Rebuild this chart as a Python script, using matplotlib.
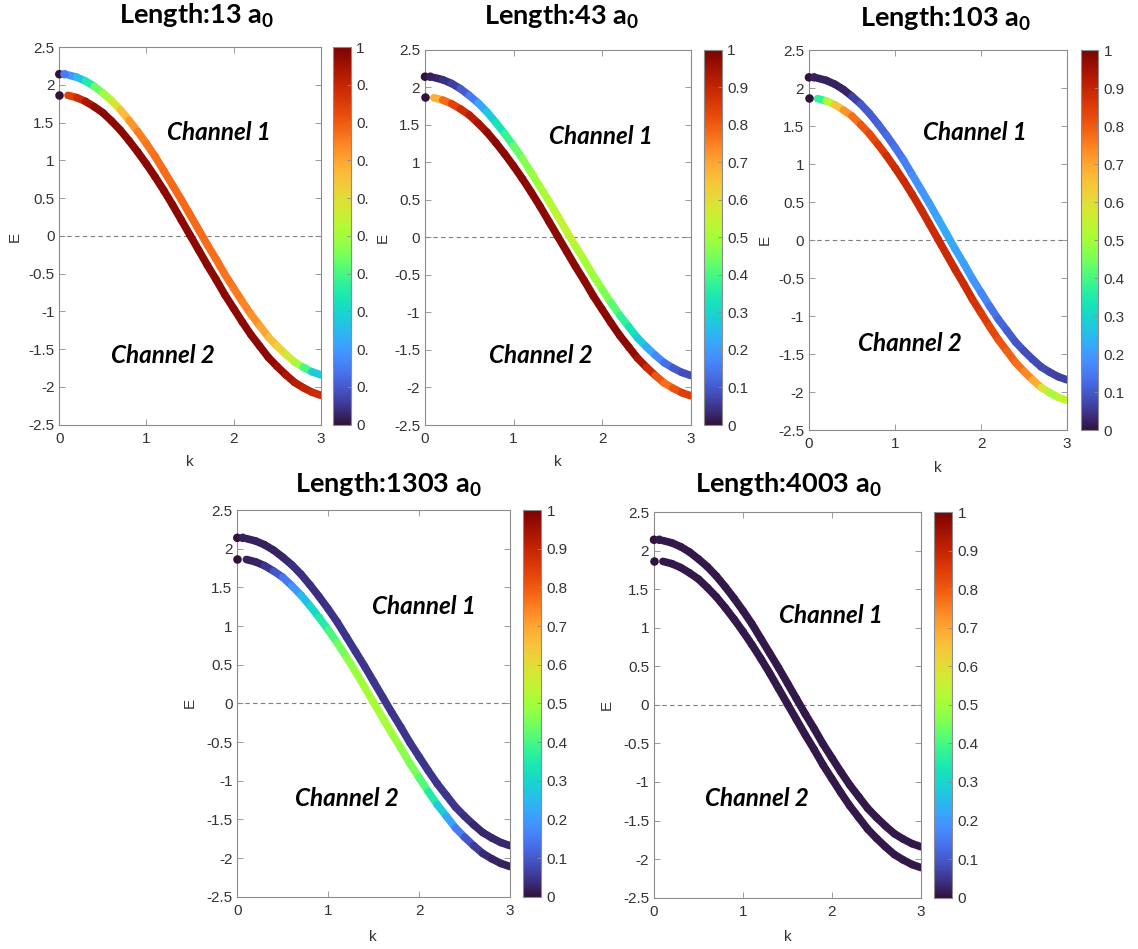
import numpy as np
import matplotlib
matplotlib.use("Agg")
import matplotlib.pyplot as plt
from matplotlib.collections import LineCollection
from matplotlib.patches import Rectangle
from matplotlib.cm import ScalarMappable

plt.rcParams['axes.unicode_minus'] = False
plt.rcParams['mathtext.default'] = 'regular'

# k-grid for the bands (start points are drawn as separate dots)
k = [0.1, 0.2, 0.3, 0.4, 0.5, 0.6, 0.7, 0.8, 0.9, 1.0,
     1.1, 1.2, 1.3, 1.4, 1.5, 1.6, 1.7, 1.8, 1.9, 2.0,
     2.1, 2.2, 2.3, 2.4, 2.5, 2.6, 2.7, 2.8, 2.9, 3.0]
E1 = [2.13, 2.10, 2.05, 1.98, 1.89, 1.79, 1.67, 1.53, 1.38, 1.22,
      1.05, 0.86, 0.67, 0.48, 0.28, 0.08, -0.12, -0.31, -0.51, -0.69,
      -0.87, -1.04, -1.19, -1.34, -1.46, -1.57, -1.67, -1.74, -1.80, -1.84]  # channel 1
E2 = [1.86, 1.83, 1.78, 1.71, 1.63, 1.52, 1.40, 1.26, 1.11, 0.95,
      0.78, 0.60, 0.41, 0.21, 0.01, -0.19, -0.39, -0.58, -0.78, -0.96,
      -1.14, -1.31, -1.46, -1.61, -1.73, -1.84, -1.94, -2.01, -2.07, -2.11]  # channel 2
k1_dots = [0.0, 0.06]
E1_dots = [2.14, 2.14]
k2_dots = [0.0]
E2_dots = [1.87]

lengths = [13, 43, 103, 1303, 4003]

# colour value along each band
c13_1 = [0.17, 0.22, 0.30, 0.40, 0.47, 0.53, 0.62, 0.70, 0.74, 0.76,
         0.77, 0.77, 0.78, 0.78, 0.78, 0.78, 0.77, 0.77, 0.77, 0.76,
         0.75, 0.74, 0.72, 0.68, 0.64, 0.60, 0.54, 0.46, 0.34, 0.22]
c13_2 = [0.82, 0.86, 0.92, 0.96, 0.98, 0.98, 0.98, 0.98, 0.98, 0.98,
         0.98, 0.98, 0.98, 0.98, 0.98, 0.98, 0.98, 0.98, 0.98, 0.98,
         0.98, 0.98, 0.98, 0.98, 0.97, 0.95, 0.93, 0.91, 0.90, 0.88]
c43_1 = [0.03, 0.03, 0.05, 0.08, 0.13, 0.18, 0.25, 0.31, 0.36, 0.41,
         0.45, 0.48, 0.50, 0.52, 0.54, 0.56, 0.53, 0.51, 0.50, 0.48,
         0.44, 0.40, 0.35, 0.30, 0.25, 0.20, 0.15, 0.11, 0.09, 0.08]
c43_2 = [0.62, 0.74, 0.82, 0.86, 0.90, 0.93, 0.96, 0.98, 0.98, 0.98,
         0.98, 0.98, 0.98, 0.98, 0.98, 0.98, 0.98, 0.98, 0.98, 0.98,
         0.98, 0.98, 0.98, 0.96, 0.92, 0.85, 0.76, 0.78, 0.84, 0.86]
c103_1 = [0.02, 0.02, 0.02, 0.02, 0.03, 0.10, 0.10, 0.11, 0.12, 0.13,
          0.15, 0.17, 0.19, 0.20, 0.21, 0.23, 0.22, 0.21, 0.20, 0.18,
          0.15, 0.13, 0.11, 0.10, 0.09, 0.08, 0.08, 0.07, 0.07, 0.06]
c103_2 = [0.30, 0.45, 0.60, 0.70, 0.75, 0.79, 0.82, 0.84, 0.87, 0.88,
          0.89, 0.89, 0.89, 0.89, 0.89, 0.89, 0.89, 0.89, 0.88, 0.86,
          0.84, 0.82, 0.80, 0.78, 0.76, 0.72, 0.66, 0.50, 0.52, 0.56]
c1303_1 = [0.02, 0.02, 0.02, 0.02, 0.02, 0.04, 0.04, 0.04, 0.04, 0.04,
           0.05, 0.05, 0.05, 0.05, 0.05, 0.05, 0.05, 0.05, 0.05, 0.05,
           0.05, 0.05, 0.05, 0.05, 0.05, 0.03, 0.03, 0.03, 0.03, 0.03]
c1303_2 = [0.02, 0.02, 0.03, 0.07, 0.12, 0.17, 0.22, 0.28, 0.33, 0.38,
           0.43, 0.46, 0.49, 0.50, 0.51, 0.51, 0.50, 0.48, 0.46, 0.44,
           0.39, 0.32, 0.25, 0.18, 0.12, 0.07, 0.04, 0.03, 0.02, 0.02]
c4003_1 = [0.01, 0.01, 0.01, 0.01, 0.01, 0.01, 0.01, 0.01, 0.01, 0.01,
           0.01, 0.01, 0.01, 0.01, 0.01, 0.01, 0.01, 0.01, 0.01, 0.01,
           0.01, 0.01, 0.01, 0.01, 0.01, 0.01, 0.01, 0.01, 0.01, 0.01]
c4003_2 = [0.01, 0.01, 0.01, 0.01, 0.01, 0.01, 0.01, 0.01, 0.01, 0.01,
           0.01, 0.01, 0.01, 0.01, 0.01, 0.01, 0.01, 0.01, 0.01, 0.01,
           0.01, 0.01, 0.01, 0.01, 0.01, 0.01, 0.01, 0.01, 0.01, 0.01]
dot1_vals = [[0.0, 0.15], [0.0, 0.02], [0.0, 0.02], [0.0, 0.02], [0.0, 0.01]]
dot2_vals = [[0.0], [0.0], [0.0], [0.0], [0.0]]

ch1_cols = [c13_1, c43_1, c103_1, c1303_1, c4003_1]
ch2_cols = [c13_2, c43_2, c103_2, c1303_2, c4003_2]

cb_ticks = [0, 0.1, 0.2, 0.3, 0.4, 0.5, 0.6, 0.7, 0.8, 0.9, 1]
cb_labels = ['0', '0.1', '0.2', '0.3', '0.4', '0.5', '0.6', '0.7', '0.8', '0.9', '1']
y_ticks = [-2.5, -2, -1.5, -1, -0.5, 0, 0.5, 1, 1.5, 2, 2.5]
y_labels = ['-2.5', '-2', '-1.5', '-1', '-0.5', '0', '0.5', '1', '1.5', '2', '2.5']
x_ticks = [0, 1, 2, 3]

W, H = 1138, 949
def box(x0, y0, x1, y1):  # pixel box -> figure fraction
    return [x0 / W, 1 - y1 / H, (x1 - x0) / W, (y1 - y0) / H]

# layout in pixels: axes, colorbar, title (cx, baseline), ylabel x,y, xlabel x,y, channel text pos (data)
layout = [
    dict(ax=(59.3, 47, 320.7, 424.7), cb=(333.3, 47, 350.7, 424.7), title=(197, 24), yl=(15, 237), xl=(190, 462),
         t1=(1.83, 1.37), t2=(1.19, -1.58)),
    dict(ax=(425, 49.7, 690.7, 425), cb=(704, 49.7, 721.7, 425), title=(562, 25), yl=(383, 238), xl=(558, 462),
         t1=(1.99, 1.34), t2=(1.31, -1.57)),
    dict(ax=(809, 50, 1067, 430), cb=(1081, 50, 1098, 430), title=(945, 27), yl=(765, 240), xl=(938, 468),
         t1=(1.93, 1.42), t2=(1.17, -1.36)),
    dict(ax=(237.3, 510, 510, 896.7), cb=(523, 510, 541, 896.7), title=(388, 493), yl=(190, 703), xl=(373, 937),
         t1=(2.05, 1.25), t2=(1.21, -1.23)),
    dict(ax=(654, 512, 921, 897.7), cb=(934, 512, 952, 897.7), title=(788, 493), yl=(607, 705), xl=(788, 937),
         t1=(1.99, 1.16), t2=(1.16, -1.22)),
]

norm = plt.Normalize(0, 1)
spine_col = '#8c8c8c'
text_col = '#333333'

def band(ax, kk, EE, cc):  # coloured thick line
    pts = np.column_stack([kk, EE])
    segs = np.stack([pts[:-1], pts[1:]], axis=1)
    cc = np.array(cc)
    lc = LineCollection(segs, cmap='turbo', norm=norm, linewidths=5.5, capstyle='round', joinstyle='round', zorder=3)
    lc.set_array((cc[:-1] + cc[1:]) / 2)
    ax.add_collection(lc)

fig = plt.figure(figsize=(W / 100, H / 100), dpi=100)

for i, L in enumerate(lengths):
    p = layout[i]
    ax = fig.add_axes(box(*p['ax']))
    ax.axhline(0, color='#7f7f7f', lw=0.8, ls=(0, (4, 3)), zorder=1)
    band(ax, k, E1, ch1_cols[i])
    band(ax, k, E2, ch2_cols[i])
    ax.scatter(k1_dots, E1_dots, c=dot1_vals[i], cmap='turbo', norm=norm, s=38, zorder=4,
               linewidths=0, clip_on=False)
    ax.scatter(k2_dots, E2_dots, c=dot2_vals[i], cmap='turbo', norm=norm, s=38, zorder=4,
               linewidths=0, clip_on=False)
    ax.set_xlim(0, 3)
    ax.set_ylim(-2.5, 2.5)
    ax.set_xticks(x_ticks)
    ax.set_yticks(y_ticks)
    ax.set_yticklabels(y_labels)
    ax.tick_params(direction='in', length=4, width=0.6, color=spine_col, labelsize=11,
                   labelcolor=text_col, top=True, right=True)
    ax.tick_params(axis='y', pad=3.5)
    ax.tick_params(axis='x', pad=5)
    for lab in ax.get_xticklabels() + ax.get_yticklabels():
        lab.set_family('Liberation Sans')
    for s in ax.spines.values():
        s.set_color(spine_col)
        s.set_linewidth(0.8)
    ax.text(*p['t1'], 'Channel 1', ha='center', va='center', fontsize=17.5, fontweight='bold',
            fontstyle='italic', family='Lato', zorder=5)
    ax.text(*p['t2'], 'Channel 2', ha='center', va='center', fontsize=17.5, fontweight='bold',
            fontstyle='italic', family='Lato', zorder=5)

    # colorbar
    cax = fig.add_axes(box(*p['cb']))
    cb = fig.colorbar(ScalarMappable(norm=norm, cmap='turbo'), cax=cax, ticks=cb_ticks)
    cb.ax.set_yticklabels(cb_labels)
    cb.outline.set_edgecolor(spine_col)
    cb.outline.set_linewidth(0.8)
    cax.tick_params(direction='in', length=3, width=0.6, color=spine_col, labelsize=11,
                    labelcolor=text_col, pad=4)
    for lab in cax.get_yticklabels():
        lab.set_family('Liberation Sans')

    # title and axis labels
    fig.text(p['title'][0] / W, 1 - p['title'][1] / H, f'Length:{L} a$_0$', ha='center', va='baseline',
             fontsize=19.5, fontweight='bold', family='Lato')
    fig.text(p['yl'][0] / W, 1 - p['yl'][1] / H, 'E', rotation=90, ha='center', va='center',
             fontsize=11, color=text_col, family='Liberation Sans')
    fig.text(p['xl'][0] / W, 1 - p['xl'][1] / H, 'k', ha='center', va='center',
             fontsize=11, color=text_col, family='Liberation Sans')

# the second panel sits over the right part of the first colorbar labels
fig.patches.append(Rectangle((368 / W, 1 - 440 / H), 22 / W, 400 / H, transform=fig.transFigure,
                             facecolor='white', edgecolor='none', zorder=1))

fig.savefig('out.png', dpi=100, facecolor='white')
